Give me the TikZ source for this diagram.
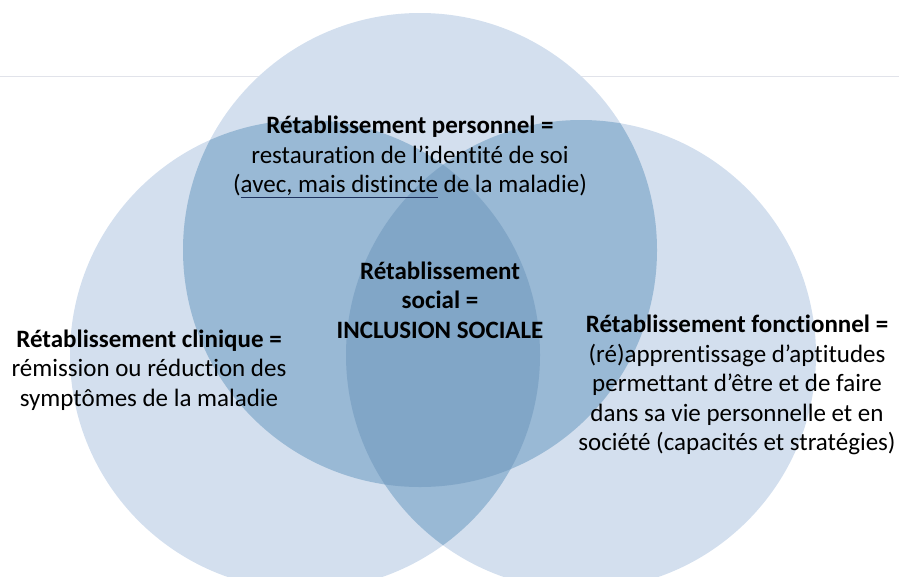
\documentclass[tikz,border=0pt]{standalone}
\usepackage{fontspec}
\setmainfont{Carlito}[Ligatures={NoCommon}]
\usetikzlibrary{positioning}

\definecolor{venone}{RGB}{211,223,238}
\definecolor{ventwo}{RGB}{153,185,213}
\definecolor{venthree}{RGB}{129,166,199}
\definecolor{rulegray}{RGB}{225,227,234}
\definecolor{navyline}{RGB}{30,50,95}

\begin{document}
\begin{tikzpicture}[x=1pt,y=-1pt,
	zone/.style={align=center,inner sep=0pt,text=black,
		font=\fontsize{25}{29.4}\selectfont}]
	\useasboundingbox (0,0) rectangle (899,576);

	\coordinate (c_perso) at (420,250);
	\coordinate (c_clin) at (305,355);
	\coordinate (c_fonc) at (581,355);
	\coordinate (r_a) at (0,76);
	\coordinate (r_b) at (899,76);

	\draw[rulegray,line width=0.8pt] (r_a) -- (r_b);

	% single circles
	\fill[venone] (c_perso) circle[radius=237pt];
	\fill[venone] (c_clin) circle[radius=235pt];
	\fill[venone] (c_fonc) circle[radius=235pt];

	% overlaps of two
	\begin{scope}
		\clip (c_perso) circle[radius=237pt];
		\fill[ventwo] (c_clin) circle[radius=235pt];
		\fill[ventwo] (c_fonc) circle[radius=235pt];
	\end{scope}
	\begin{scope}
		\clip (c_clin) circle[radius=235pt];
		\fill[ventwo] (c_fonc) circle[radius=235pt];
		\clip (c_perso) circle[radius=237pt];
		\fill[venthree] (c_fonc) circle[radius=235pt];
	\end{scope}

	\node[zone] (q_perso) at (410,157)
		{\textbf{Rétablissement personnel =}\\
		 restauration de l’identité de soi\\
		 ({\color{navyline}\underline{\color{black}avec, mais distincte}} de la maladie)};
	\node[zone] (q_soc) at (440,300)
		{\textbf{Rétablissement}\\ \textbf{social =}\\ \textbf{INCLUSION SOCIALE}};
	\node[zone] (q_clin) at (149,370)
		{\textbf{Rétablissement clinique =}\\
		 rémission ou réduction des\\
		 symptômes de la maladie};
	\node[zone] (q_fonc) at (737,385)
		{\textbf{Rétablissement fonctionnel =}\\
		 (ré)apprentissage d’aptitudes\\
		 permettant d’être et de faire\\
		 dans sa vie personnelle et en\\
		 société (capacités et stratégies)};
\end{tikzpicture}
\end{document}
